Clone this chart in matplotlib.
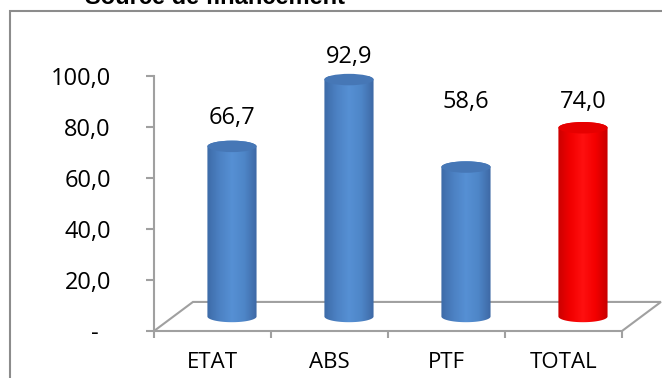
import matplotlib.pyplot as plt
import numpy as np
from matplotlib.patches import Polygon, Ellipse, Rectangle
from matplotlib.colors import LinearSegmentedColormap

categories = ["ETAT", "ABS", "PTF", "TOTAL"]
values = [66.7, 92.9, 58.6, 74.0]
value_labels = ["66,7", "92,9", "58,6", "74,0"]
y_ticks = [0, 20, 40, 60, 80, 100]
y_tick_labels = ["-  ", "20,0", "40,0", "60,0", "80,0", "100,0"]
title = "Source de financement"

# look of the fake 3D
depth_x, depth_y = 0.333, 11.4      # floor depth in data units
bar_w = 0.42
cap_h = 4.5
label_lift = [17.0, 14.6, 31.2, 15.8]
grey = "#A0A0A0"

blue_cmap = LinearSegmentedColormap.from_list(
    "b", ["#3D6BA8", "#4C81C3", "#5690D4", "#4E86C8", "#3E69A5"])
red_cmap = LinearSegmentedColormap.from_list(
    "r", ["#CC0000", "#F20000", "#FF1010", "#F40000", "#C80000"])
top_colors = {"b": "#4677B6", "r": "#E60000"}

plt.rcParams['font.family'] = ['Open Sans', 'DejaVu Sans']

fig = plt.figure(figsize=(6.62, 3.78), dpi=100)
fig.patch.set_facecolor("white")

# outer chart frame (cut off on the right and bottom)
fig.patches.append(Rectangle((10 / 662, -0.1), 1.2, 0.1 + (378 - 10.5) / 378,
                             transform=fig.transFigure, fill=False,
                             edgecolor="#8C8C8C", lw=1.5))
fig.text(215 / 662, (378 - 4) / 378, title, ha="center", va="baseline",
         fontsize=17, fontweight="bold", family=["Liberation Sans", "DejaVu Sans"])

ax = fig.add_axes([154 / 662, 47 / 378, 468 / 662, 255 / 378])
ax.patch.set_alpha(0)
for s in ["top", "right", "bottom"]:
    ax.spines[s].set_visible(False)
ax.spines["left"].set_color(grey)
ax.spines["left"].set_linewidth(1.5)

# floor
floor = Polygon([(0, 0), (depth_x, depth_y), (4 + depth_x, depth_y), (4, 0)],
                closed=True, facecolor="white", edgecolor=grey, lw=1.5,
                clip_on=False, zorder=1)
ax.add_patch(floor)

t = np.linspace(0, np.pi, 60)
for i, (val, lab) in enumerate(zip(values, value_labels)):
    kind = "r" if categories[i] == "TOTAL" else "b"
    cmap = red_cmap if kind == "r" else blue_cmap
    cx = i + 0.5 + depth_x / 2
    base = depth_y / 2
    top = val + depth_y / 2
    xl, xr = cx - bar_w / 2, cx + bar_w / 2
    # silhouette: left side, lower half of bottom ellipse, right side, upper half of top ellipse
    low = np.column_stack([cx - bar_w / 2 * np.cos(t), base - cap_h / 2 * np.sin(t)])
    up = np.column_stack([cx + bar_w / 2 * np.cos(t), top + cap_h / 2 * np.sin(t)])
    pts = np.vstack([[xl, top], low, [xr, top], up])
    body = Polygon(pts, closed=True, facecolor="none", edgecolor="none",
                   clip_on=False)
    ax.add_patch(body)
    grad = np.linspace(0, 1, 100).reshape(1, -1)
    im = ax.imshow(grad, cmap=cmap, aspect="auto",
                   extent=[xl, xr, base - cap_h, top + cap_h], zorder=3)
    im.set_clip_path(body)
    im.set_clip_box(None)
    cap = Ellipse((cx, top), bar_w, cap_h, facecolor=top_colors[kind],
                  edgecolor="none", zorder=4, clip_on=False)
    ax.add_patch(cap)
    ax.text(cx, val + label_lift[i], lab, ha="center", va="center",
            fontsize=17, zorder=5)

ax.set_xlim(0, 4)
ax.set_ylim(0, 100)

ax.set_yticks(y_ticks)
ax.set_yticklabels(y_tick_labels, fontsize=17)
ax.tick_params(axis="y", length=6, width=1.5, color=grey, pad=25)

ax.set_xticks(np.arange(len(categories)) + 0.5)
ax.set_xticklabels(categories, fontsize=16)
ax.set_xticks(np.arange(len(categories) + 1), minor=True)
ax.tick_params(axis="x", which="major", length=0, pad=15)
ax.tick_params(axis="x", which="minor", length=5, width=1.5, color=grey)

fig.savefig("out.png", dpi=100, facecolor="white")
